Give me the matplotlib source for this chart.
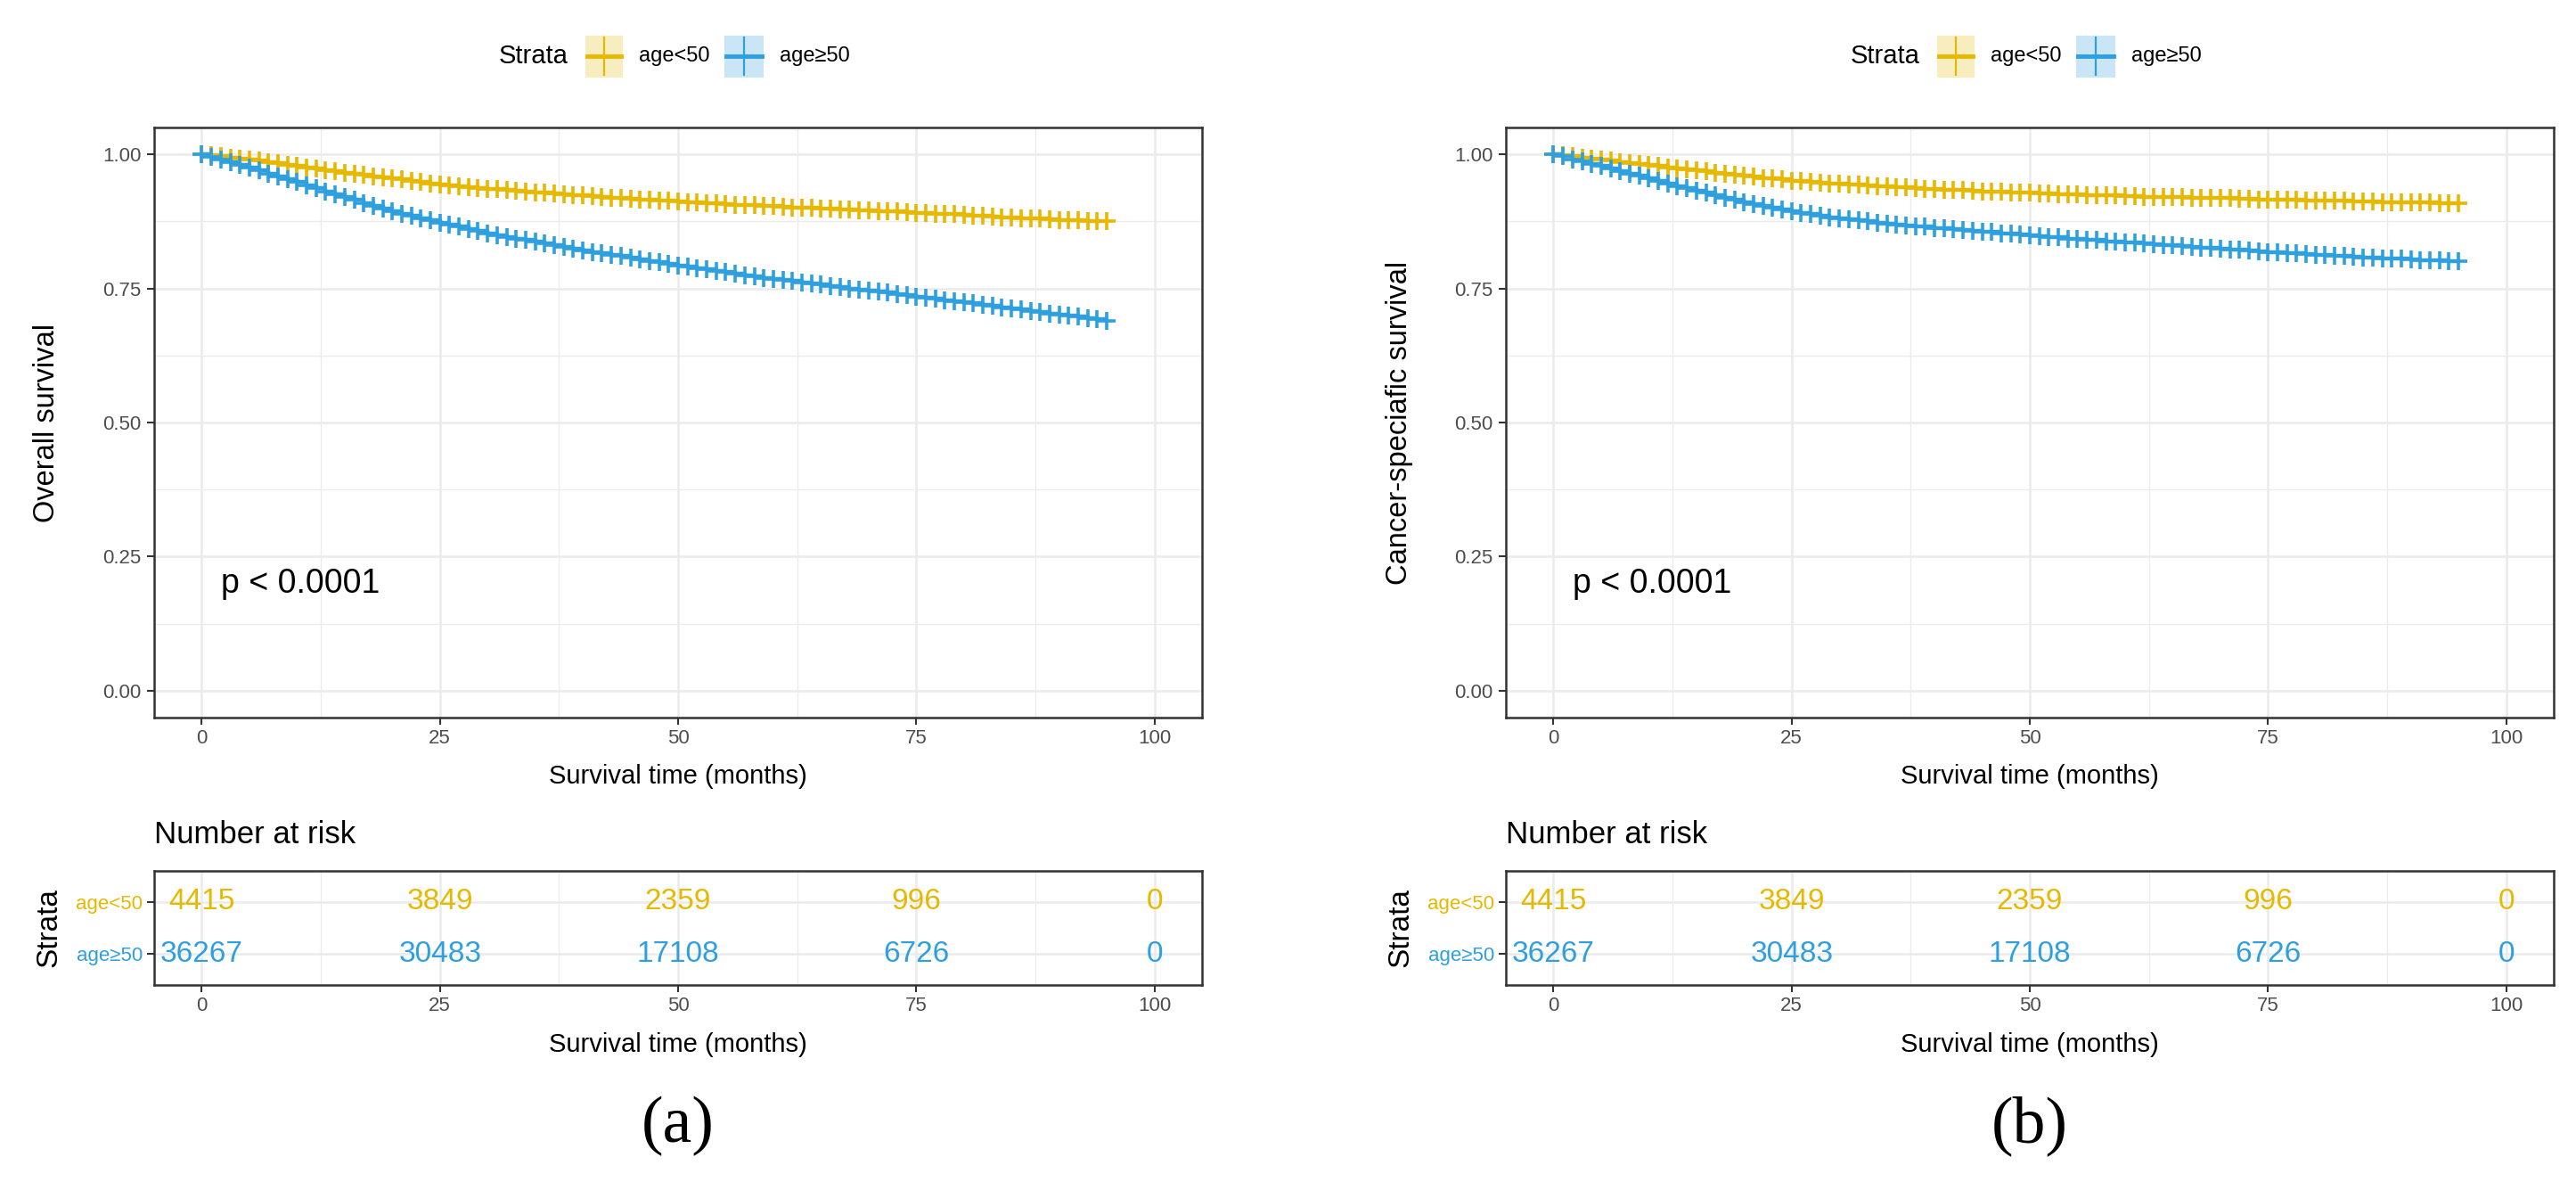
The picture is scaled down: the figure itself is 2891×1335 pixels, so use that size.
import matplotlib
matplotlib.use('Agg')
import matplotlib.pyplot as plt
from matplotlib.patches import Rectangle
from matplotlib.lines import Line2D

SANS = ['Liberation Sans', 'DejaVu Sans']
plt.rcParams['font.family'] = SANS

# ---------------- data ----------------
months = list(range(0, 96))

# Overall survival (panel a)
os_lt50 = [1.000, 0.998, 0.996, 0.994, 0.992, 0.990,
           0.988, 0.985, 0.983, 0.980, 0.978,
           0.976, 0.973, 0.971, 0.968, 0.966,
           0.964, 0.962, 0.959, 0.957, 0.955,
           0.953, 0.950, 0.948, 0.945, 0.943,
           0.942, 0.940, 0.939, 0.937, 0.936,
           0.935, 0.933, 0.932, 0.930, 0.929,
           0.928, 0.927, 0.925, 0.924, 0.923,
           0.922, 0.921, 0.919, 0.918, 0.917,
           0.916, 0.915, 0.914, 0.913, 0.912,
           0.911, 0.910, 0.909, 0.908, 0.907,
           0.906, 0.905, 0.905, 0.904, 0.903,
           0.902, 0.901, 0.901, 0.900, 0.899,
           0.898, 0.897, 0.897, 0.896, 0.895,
           0.894, 0.893, 0.893, 0.892, 0.891,
           0.890, 0.889, 0.889, 0.888, 0.887,
           0.886, 0.885, 0.884, 0.883, 0.882,
           0.881, 0.880, 0.880, 0.879, 0.878,
           0.877, 0.877, 0.876, 0.876, 0.875]

os_ge50 = [1.000, 0.995, 0.990, 0.985, 0.980, 0.975,
           0.970, 0.964, 0.959, 0.953, 0.948,
           0.942, 0.937, 0.931, 0.926, 0.920,
           0.915, 0.909, 0.904, 0.898, 0.893,
           0.889, 0.885, 0.881, 0.877, 0.873,
           0.869, 0.865, 0.861, 0.857, 0.853,
           0.849, 0.846, 0.843, 0.840, 0.837,
           0.834, 0.831, 0.827, 0.824, 0.821,
           0.818, 0.815, 0.813, 0.810, 0.807,
           0.804, 0.801, 0.799, 0.796, 0.793,
           0.790, 0.788, 0.785, 0.783, 0.780,
           0.778, 0.775, 0.773, 0.770, 0.768,
           0.766, 0.764, 0.761, 0.759, 0.757,
           0.755, 0.753, 0.750, 0.748, 0.746,
           0.744, 0.742, 0.739, 0.737, 0.735,
           0.733, 0.731, 0.728, 0.726, 0.724,
           0.722, 0.720, 0.717, 0.715, 0.713,
           0.711, 0.708, 0.706, 0.703, 0.701,
           0.699, 0.697, 0.694, 0.692, 0.690]

# Cancer-specific survival (panel b)
css_lt50 = [1.000, 0.998, 0.996, 0.994, 0.992, 0.990,
            0.988, 0.986, 0.984, 0.982, 0.980,
            0.978, 0.976, 0.974, 0.972, 0.970,
            0.968, 0.966, 0.964, 0.962, 0.960,
            0.958, 0.956, 0.955, 0.953, 0.951,
            0.950, 0.949, 0.947, 0.946, 0.945,
            0.944, 0.943, 0.942, 0.941, 0.940,
            0.939, 0.938, 0.937, 0.936, 0.935,
            0.934, 0.933, 0.933, 0.932, 0.931,
            0.930, 0.930, 0.929, 0.929, 0.928,
            0.927, 0.927, 0.926, 0.926, 0.925,
            0.924, 0.924, 0.923, 0.923, 0.922,
            0.922, 0.921, 0.921, 0.920, 0.920,
            0.920, 0.919, 0.919, 0.918, 0.918,
            0.918, 0.917, 0.917, 0.916, 0.916,
            0.916, 0.915, 0.915, 0.914, 0.914,
            0.914, 0.913, 0.913, 0.912, 0.912,
            0.912, 0.911, 0.911, 0.910, 0.910,
            0.910, 0.910, 0.909, 0.909, 0.909]

css_ge50 = [1.000, 0.996, 0.991, 0.987, 0.982, 0.978,
            0.973, 0.969, 0.964, 0.960, 0.955,
            0.950, 0.946, 0.941, 0.937, 0.932,
            0.928, 0.924, 0.919, 0.915, 0.911,
            0.907, 0.904, 0.900, 0.897, 0.893,
            0.891, 0.888, 0.886, 0.883, 0.881,
            0.879, 0.877, 0.875, 0.873, 0.871,
            0.869, 0.868, 0.866, 0.865, 0.863,
            0.862, 0.860, 0.859, 0.857, 0.856,
            0.855, 0.853, 0.852, 0.850, 0.849,
            0.848, 0.846, 0.845, 0.843, 0.842,
            0.841, 0.840, 0.838, 0.837, 0.836,
            0.835, 0.834, 0.832, 0.831, 0.830,
            0.829, 0.828, 0.826, 0.825, 0.824,
            0.823, 0.822, 0.820, 0.819, 0.818,
            0.817, 0.816, 0.815, 0.814, 0.813,
            0.812, 0.811, 0.810, 0.809, 0.808,
            0.807, 0.806, 0.806, 0.805, 0.804,
            0.803, 0.802, 0.802, 0.801, 0.800]

strata = ['age<50', 'age\u226550']
risk_times = [0, 25, 50, 75, 100]
risk_lt50 = [4415, 3849, 2359, 996, 0]
risk_ge50 = [36267, 30483, 17108, 6726, 0]

x_ticks = [0, 25, 50, 75, 100]
y_ticks = [0.00, 0.25, 0.50, 0.75, 1.00]
y_tick_labels = ['0.00', '0.25', '0.50', '0.75', '1.00']
pval_text = 'p < 0.0001'
xlabel = 'Survival time (months)'
ylabels = ['Overall survival', 'Cancer-speciafic survival']
captions = ['(a)', '(b)']

# ---------------- style ----------------
ORANGE = '#E7B800'
BLUE = '#2E9FDF'
GRID = '#EBEBEB'
DARK = '#333333'
TICKC = '#4D4D4D'

W, H = 2891, 1335
DPI = 100
fig = plt.figure(figsize=(W / DPI, H / DPI), dpi=DPI)
fig.patch.set_facecolor('white')


def fx(px):
    return px / W


def fy(py):
    return 1 - py / H


def style_axes(ax):
    for s in ax.spines.values():
        s.set_color(DARK)
        s.set_linewidth(1.8)
    ax.tick_params(which='major', direction='out', length=5.5, width=1.5,
                   color=DARK, labelcolor=TICKC, labelsize=16, pad=4)
    ax.tick_params(which='minor', length=0)
    ax.grid(which='major', color=GRID, lw=1.8)
    ax.grid(which='minor', color=GRID, lw=0.9)
    ax.set_axisbelow(True)


def panel(off, s_lt, s_ge, ylab, cap):
    L, R = 173 + off, 1349 + off
    T, B = 143, 805
    ax = fig.add_axes([fx(L), fy(B), (R - L) / W, (B - T) / H])
    style_axes(ax)
    ax.set_xlim(-5, 105)
    ax.set_ylim(-0.05, 1.05)
    ax.set_xticks(x_ticks)
    ax.set_xticks([12.5, 37.5, 62.5, 87.5], minor=True)
    ax.set_yticks(y_ticks)
    ax.set_yticklabels(y_tick_labels)
    ax.set_yticks([0.125, 0.375, 0.625, 0.875], minor=True)
    ax.tick_params(axis='y', pad=5)
    for s, c in ((s_lt, ORANGE), (s_ge, BLUE)):
        ax.plot(months, s, color=c, lw=3.2, drawstyle='steps-post', zorder=3)
        ax.plot(months, s, ls='none', marker='+', ms=15, mew=2.6, color=c, zorder=4)
    ax.text(2, 0.2, pval_text, fontsize=27, ha='left', va='center', color='black')

    cx = (L + R) / 2
    fig.text(fx(cx), fy(871), xlabel, fontsize=21, ha='center', va='center')
    fig.text(fx(53 + off), fy((T + B) / 2), ylab, fontsize=23.5, rotation=90,
             ha='center', va='center')

    # legend
    fig.text(fx(560 + off), fy(63), 'Strata', fontsize=21, ha='left', va='center')
    for (k0, k1, lx), lab, c in zip(((657, 699, 717), (813, 857, 875)), strata, (ORANGE, BLUE)):
        fig.add_artist(Rectangle((fx(k0 + off), fy(87)), (k1 - k0) / W, 47 / H,
                                 transform=fig.transFigure, fc=c, alpha=0.25, ec='none'))
        fig.add_artist(Line2D([fx(k0 + off + 2), fx(k1 + off - 2)], [fy(63), fy(63)],
                              transform=fig.transFigure, color=c, lw=3.5))
        xm = (k0 + k1) / 2 + off
        fig.add_artist(Line2D([fx(xm), fx(xm)], [fy(42), fy(84)],
                              transform=fig.transFigure, color=c, lw=1.6))
        fig.text(fx(lx + off), fy(63), lab, fontsize=17, ha='left', va='center')

    # risk table
    RT, RB = 977, 1105
    rax = fig.add_axes([fx(L), fy(RB), (R - L) / W, (RB - RT) / H])
    style_axes(rax)
    rax.set_xlim(-5, 105)
    rax.set_ylim(0.4, 2.6)
    rax.set_xticks(x_ticks)
    rax.set_xticks([12.5, 37.5, 62.5, 87.5], minor=True)
    rax.set_yticks([1, 2])
    rax.set_yticklabels([strata[1], strata[0]])
    rax.tick_params(axis='y', labelsize=16, pad=4)
    for lbl, c in zip(rax.get_yticklabels(), (BLUE, ORANGE)):
        lbl.set_color(c)
    for t, n in zip(risk_times, risk_lt50):
        rax.text(t, 2, str(n), ha='center', va='center', fontsize=24, color=ORANGE)
    for t, n in zip(risk_times, risk_ge50):
        rax.text(t, 1, str(n), ha='center', va='center', fontsize=24, color=BLUE)
    fig.text(fx(L), fy(937), 'Number at risk', fontsize=25, ha='left', va='center')
    fig.text(fx(cx), fy(1172), xlabel, fontsize=21, ha='center', va='center')
    fig.text(fx(55 + off), fy((RT + RB) / 2), 'Strata', fontsize=24, rotation=90,
             ha='center', va='center')

    fig.text(fx(cx), fy(1263), cap, fontsize=53, ha='center', va='center',
             family=['Liberation Serif', 'DejaVu Serif'])


panel(0, os_lt50, os_ge50, ylabels[0], captions[0])
panel(1517, css_lt50, css_ge50, ylabels[1], captions[1])

fig.savefig('out.png', dpi=DPI, facecolor='white')
